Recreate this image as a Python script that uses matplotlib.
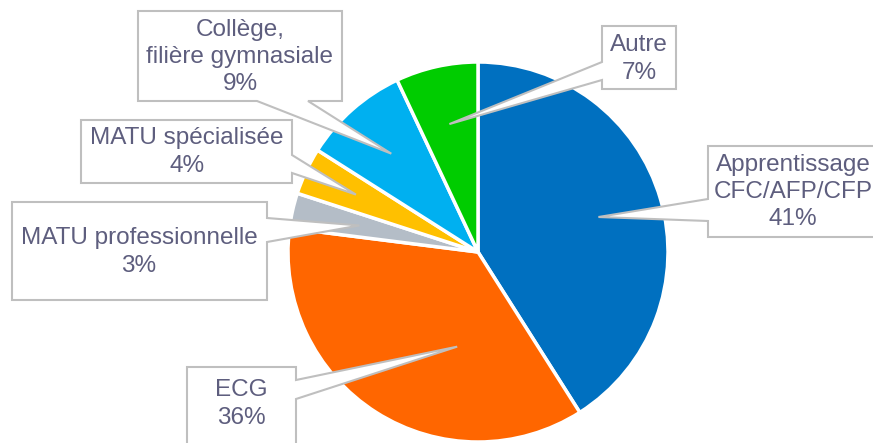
import numpy as np
import matplotlib
matplotlib.use("Agg")
import matplotlib.pyplot as plt
from matplotlib.patches import Polygon

# data, in drawing order (clockwise from 12 o'clock)
labels = ["Apprentissage\nCFC/AFP/CFP", "ECG", "MATU professionnelle",
          "MATU spécialisée", "Collège,\nfilière gymnasiale", "Autre"]
shares = [41, 36, 3, 4, 9, 7]
colors = ["#0070C0", "#FF6600", "#B4BDC7", "#FFC000", "#00B0F0", "#00CC00"]

W, H = 873, 443
cx, cy, R = 478, 252, 190   # pie centre / radius in pixels (y down)

# callout layout (pixel coords, y down): box, side where pointer leaves, attach span,
# tip radius fraction, tip angle shift (deg), text centre
callouts = [
    dict(box=(708, 146, 877, 237), side="left", span=(199, 221), frac=0.66, shift=0, txt=(793, 192)),
    dict(box=(187, 367, 296, 460), side="right", span=(380, 399), frac=0.51, shift=20, txt=(241, 404)),
    dict(box=(12, 202, 267, 300), side="right", span=(218, 242), frac=0.64, shift=0, txt=(139, 252)),
    dict(box=(81, 120, 292, 183), side="right", span=(155, 173), frac=0.71, shift=0, txt=(187, 152)),
    dict(box=(138, 11, 342, 101), side="bottom", span=(257, 308), frac=0.69, shift=0, txt=(240, 57)),
    dict(box=(602, 26, 676, 89), side="left", span=(62, 80), frac=0.69, shift=0, txt=(639, 59)),
]

text_color = "#5E5E7E"
edge_color = "#BFBFBF"


def fy(y):
    return H - y


fig = plt.figure(figsize=(W / 100, H / 100), dpi=100)
ax = fig.add_axes([0, 0, 1, 1])

wedges, _ = ax.pie(shares, colors=colors, startangle=90, counterclock=False,
                   center=(cx, fy(cy)), radius=R,
                   wedgeprops=dict(edgecolor="white", linewidth=2.5))

for w, lab, share, c in zip(wedges, labels, shares, callouts):
    mid = np.deg2rad((w.theta1 + w.theta2) / 2 + c["shift"])
    tx = cx + c["frac"] * R * np.cos(mid)
    ty = cy - c["frac"] * R * np.sin(mid)
    x0, y0, x1, y1 = c["box"]
    a, b = c["span"]
    pts = [(x0, y0), (x1, y0)]
    if c["side"] == "right":
        pts += [(x1, a), (tx, ty), (x1, b)]
    pts += [(x1, y1)]
    if c["side"] == "bottom":
        pts += [(b, y1), (tx, ty), (a, y1)]
    pts += [(x0, y1)]
    if c["side"] == "left":
        pts += [(x0, b), (tx, ty), (x0, a)]
    poly = Polygon([(px, fy(py)) for px, py in pts], closed=True,
                   facecolor="white", edgecolor=edge_color, linewidth=1.5, zorder=5)
    ax.add_patch(poly)
    ax.text(c["txt"][0], fy(c["txt"][1]), f"{lab}\n{share}%", ha="center", va="center",
            color=text_color, fontsize=17.5, family="Liberation Sans",
            linespacing=1.3, zorder=6)

ax.set_xlim(0, W)
ax.set_ylim(0, H)
ax.set_aspect("equal")
ax.axis("off")

fig.savefig("out.png", dpi=100)
